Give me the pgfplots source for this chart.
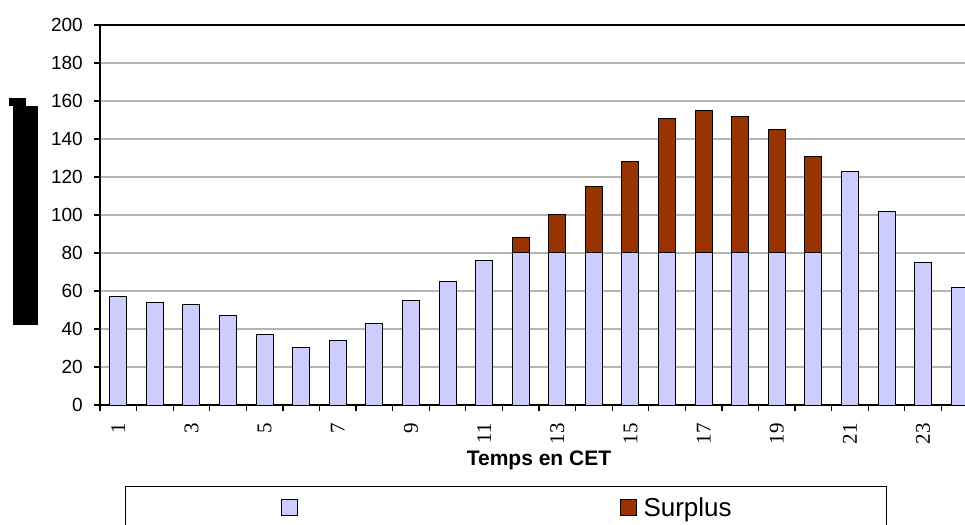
\documentclass[border=0pt]{standalone}
\usepackage{pgfplots}
\pgfplotsset{compat=1.18}
\usepackage{fontspec}
\setmainfont{Liberation Sans}
\newfontfamily\seriffont{Liberation Serif}
\definecolor{lav}{HTML}{CCCCFF}
\definecolor{surp}{HTML}{993300}
\definecolor{gridgray}{HTML}{B4B4B4}
\begin{document}
\begin{tikzpicture}[x=1pt,y=1pt]
\useasboundingbox (0,0) rectangle (965,524);
\clip (0,0) rectangle (965,524);
\fill[black] (9,418) rectangle (26,426);
\fill[black] (13,199) rectangle (38,418);
\coordinate (O) at (100,119);
\begin{axis}[
  at={(O)}, anchor=south west,
  scale only axis, width=878pt, height=380pt,
  xmin=0.5, xmax=24.5, ymin=0, ymax=200,
  ybar stacked, bar width=17pt,
  /pgf/number format/assume math mode=true,
  ytick={0,20,...,200},
  minor ytick={0,20,...,200},
  ymajorgrids, grid style={gridgray, line width=1.3pt},
  minor grid style={draw=none},
  xtick={1,3,...,23},
  xticklabels={1,3,5,7,9,11,13,15,17,19,21,23},
  minor xtick={0.5,1.5,...,24.5},
  tick pos=left,
  tick align=outside, major tick length=0pt, minor tick length=6pt,
  tick style={black, line width=1.2pt},
  axis line style={line width=1.3pt},
  xticklabel style={yshift=-18pt, rotate=90, anchor=east, inner sep=0pt,
       font=\seriffont\fontsize{21}{24}\selectfont},
  yticklabel style={font=\fontsize{19}{22}\selectfont, inner sep=0pt, anchor=east, xshift=-17pt},
  xlabel={Temps en CET},
  xlabel style={at={(axis description cs:0.5,-0.1605)}, anchor=base,
     font=\bfseries\fontsize{21}{25}\selectfont},
  legend columns=2,
  legend image code/.code={\draw[#1, line width=1pt] (0pt,-8pt) rectangle (16pt,8pt);},
  legend style={at={(axis description cs:0.02847,-0.21316)}, anchor=north west,
     draw=black, line width=1pt, inner xsep=155pt, inner ysep=11pt,
     nodes={inner sep=0pt}, font=\fontsize{26}{30}\selectfont,
     /tikz/every odd column/.append style={column sep=7pt},
     /tikz/every even column/.append style={column sep=0pt}},
  legend cell align=left,
]
\addplot[fill=lav, draw=black, line width=1pt] coordinates {
(1,57) (2,54) (3,53) (4,47) (5,37) (6,30) (7,34) (8,43) (9,55) (10,65) (11,76) (12,80)
(13,80) (14,80) (15,80) (16,80) (17,80) (18,80) (19,80) (20,80) (21,123) (22,102) (23,75) (24,62)};
\addlegendentry{\hspace*{315pt}}
\addplot[fill=surp, draw=black, line width=1pt] coordinates {
(1,0) (2,0) (3,0) (4,0) (5,0) (6,0) (7,0) (8,0) (9,0) (10,0) (11,0)
(12,8) (13,20) (14,35) (15,48) (16,71) (17,75) (18,72) (19,65) (20,51)
(21,0) (22,0) (23,0) (24,0)};
\addlegendentry{Surplus}
\end{axis}
\end{tikzpicture}
\end{document}
